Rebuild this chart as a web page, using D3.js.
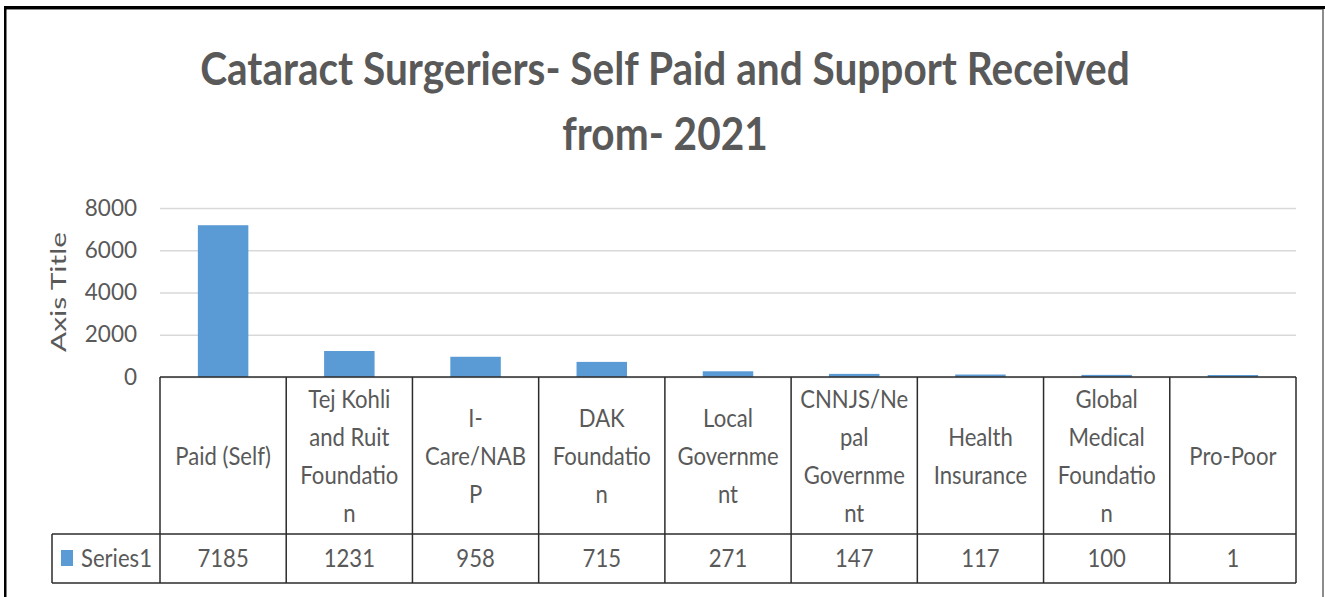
<!DOCTYPE html>
<html>
<head>
<meta charset="utf-8">
<script src="https://cdn.jsdelivr.net/npm/d3@7"></script>
<style>
    body { margin: 0; background: #fff; }
    svg { display: block; }
    text { font-family: Lato, "Open Sans", sans-serif; fill: #595959; }
</style>
</head>
<body>
<div id="chart"></div>
<script>
// data
const categories = [
    'Paid (Self)',
    'Tej Kohli\nand Ruit\nFoundatio\nn',
    'I-\nCare/NAB\nP',
    'DAK\nFoundatio\nn',
    'Local\nGovernme\nnt',
    'CNNJS/Ne\npal\nGovernme\nnt',
    'Health\nInsurance',
    'Global\nMedical\nFoundatio\nn',
    'Pro-Poor'
];
const values = [7185, 1231, 958, 715, 271, 147, 117, 100, 1];
const seriesName = 'Series1';
const yTicks = [0, 2000, 4000, 6000, 8000];
const titleLines = ['Cataract Surgeriers- Self Paid and Support Received', 'from- 2021'];
const axisTitle = 'Axis Title';

const width = 1325, height = 597;
const plot = {left: 160, right: 1296, top: 208, bottom: 377};
const headerBottom = 534, rowBottom = 583, legendLeft = 52;
const lineColor = '#2b2b2b';
const barColor = '#5b9bd5';
const tableSx = 0.85;

const svg = d3.select('#chart')
    .append('svg')
    .attr('width', width)
    .attr('height', height);

// chart frame (cropped screenshot border)
svg.append('rect').attr('x', 4).attr('y', 6).attr('width', width - 4).attr('height', 3).attr('fill', '#000');
svg.append('line').attr('x1', 6).attr('x2', 1323).attr('y1', 9.5).attr('y2', 9.5).attr('stroke', '#8a8a8a');
svg.append('rect').attr('x', 4).attr('y', 6).attr('width', 2.5).attr('height', height).attr('fill', '#000');
svg.append('line').attr('x1', 1323).attr('x2', 1323).attr('y1', 9).attr('y2', height)
    .attr('stroke', '#666').attr('stroke-width', 1.5);

// stretch a text horizontally to a given width
function fitWidth(sel, target) {
    const w = sel.node().getComputedTextLength();
    return target / w;
}

// title
const t1 = svg.append('text').attr('text-anchor', 'middle').style('font-size', '45px')
    .style('font-weight', 700).text(titleLines[0]);
const titleSx = fitWidth(t1, 930);
t1.attr('transform', `translate(665,85) scale(${titleSx},1)`);
svg.append('text').attr('text-anchor', 'middle').style('font-size', '45px')
    .style('font-weight', 700).text(titleLines[1])
    .attr('transform', `translate(665,150) scale(${titleSx},1)`);

const x = d3.scaleBand()
    .domain(categories)
    .range([plot.left, plot.right]);

const y = d3.scaleLinear()
    .domain([0, 8000])
    .range([plot.bottom, plot.top]);

// gridlines + tick labels
const yAxis = svg.append('g')
    .attr('transform', `translate(${plot.left},0)`)
    .call(d3.axisLeft(y).tickValues(yTicks).tickFormat(d3.format('d'))
        .tickSize(-(plot.right - plot.left)).tickPadding(23));
yAxis.select('.domain').remove();
yAxis.selectAll('.tick line').attr('stroke', '#d9d9d9').attr('stroke-width', 1.5);
yAxis.selectAll('.tick text')
    .attr('fill', '#595959')
    .style('font-family', 'Lato, sans-serif')
    .style('font-size', '22.5px');

// axis title
const at = svg.append('text').attr('text-anchor', 'middle').style('font-size', '22px').text(axisTitle);
const atSx = fitWidth(at, 120);
at.attr('transform', `translate(66,292) rotate(-90) scale(${atSx},1)`);

// bars (kept at least 2px tall so the tiny values still show, as in the original)
const barW = x.bandwidth() * 0.4;
svg.append('g')
    .selectAll('rect')
    .data(values)
    .join('rect')
    .attr('x', (d, i) => x(categories[i]) + (x.bandwidth() - barW) / 2)
    .attr('y', d => Math.min(y(d), y(0) - 2))
    .attr('width', barW)
    .attr('height', d => Math.max(y(0) - y(d), 2))
    .attr('fill', barColor);

// data table
const table = svg.append('g').attr('stroke', lineColor).attr('stroke-width', 1.5);
table.append('line').attr('x1', plot.left).attr('x2', plot.right).attr('y1', plot.bottom).attr('y2', plot.bottom);
table.append('line').attr('x1', legendLeft).attr('x2', plot.right).attr('y1', headerBottom).attr('y2', headerBottom);
table.append('line').attr('x1', legendLeft).attr('x2', plot.right).attr('y1', rowBottom).attr('y2', rowBottom);
table.append('line').attr('x1', legendLeft).attr('x2', legendLeft).attr('y1', headerBottom).attr('y2', rowBottom);
table.selectAll('.vline')
    .data(categories.map(c => x(c)).concat([plot.right]))
    .join('line')
    .attr('x1', d => d).attr('x2', d => d)
    .attr('y1', plot.bottom).attr('y2', rowBottom);

// category labels
const headerMid = (plot.bottom + headerBottom) / 2;
categories.forEach(c => {
    const lines = c.split('\n');
    const cx = x(c) + x.bandwidth() / 2;
    lines.forEach((ln, i) => {
        const ly = headerMid + (i - (lines.length - 1) / 2) * 38 + 9.5;
        svg.append('text')
            .attr('text-anchor', 'middle')
            .attr('transform', `translate(${cx},${ly}) scale(${tableSx},1)`)
            .style('font-size', '26px')
            .text(ln);
    });
});

// value row
svg.append('g')
    .selectAll('text')
    .data(values)
    .join('text')
    .attr('text-anchor', 'middle')
    .attr('transform', (d, i) => `translate(${x(categories[i]) + x.bandwidth() / 2},567) scale(${tableSx},1)`)
    .style('font-size', '26px')
    .text(d => d);

// legend key
svg.append('rect').attr('x', 61).attr('y', 550).attr('width', 12).attr('height', 16).attr('fill', barColor);
svg.append('text')
    .attr('transform', `translate(81,567) scale(${tableSx},1)`)
    .style('font-size', '26px')
    .text(seriesName);
</script>
</body>
</html>
